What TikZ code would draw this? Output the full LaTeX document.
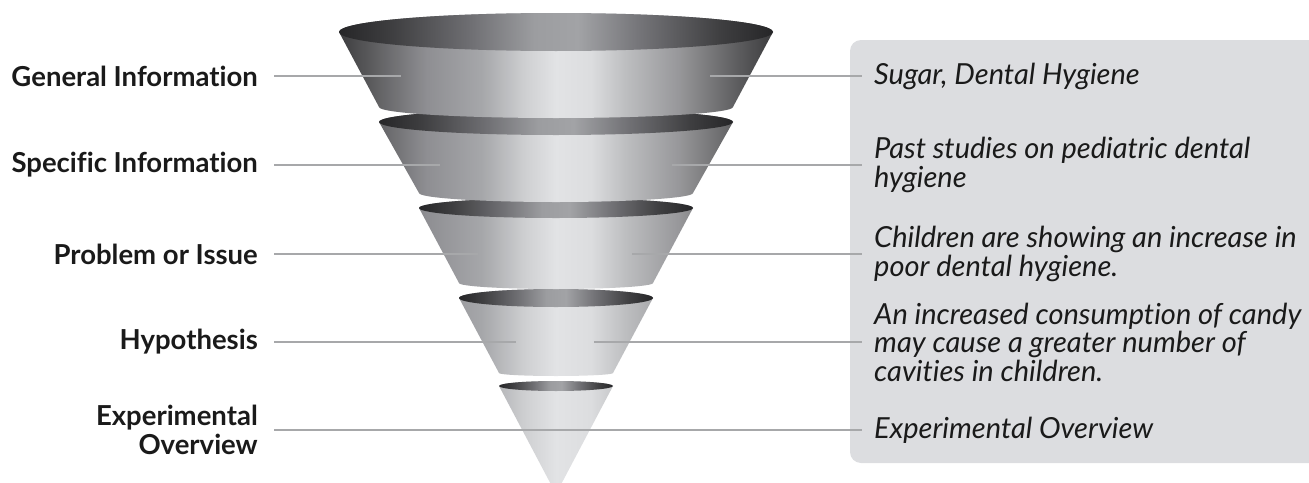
\documentclass[tikz,border=0pt]{standalone}
\usepackage{fontspec}
\newfontfamily\labfont{Lato}[Ligatures={NoCommon}]
\usetikzlibrary{positioning}

\definecolor{boxgray}{HTML}{DCDDE0}
\definecolor{leadgray}{HTML}{A7A8AA}
\definecolor{inkblack}{HTML}{1A1A1A}
\definecolor{bA}{HTML}{3C3C3E}\definecolor{bB}{HTML}{5E5E60}
\definecolor{bC}{HTML}{8E8E92}\definecolor{bD}{HTML}{A6A7AA}
\definecolor{bE}{HTML}{CFD0D2}\definecolor{bF}{HTML}{E2E3E5}
\definecolor{bG}{HTML}{DCDDDF}\definecolor{bH}{HTML}{BDBEC0}
\definecolor{bI}{HTML}{98989B}\definecolor{bJ}{HTML}{646466}
\definecolor{tA}{HTML}{262628}\definecolor{tB}{HTML}{3E3E40}
\definecolor{tC}{HTML}{6E6E72}\definecolor{tD}{HTML}{9C9DA0}
\definecolor{tE}{HTML}{A2A3A6}\definecolor{tF}{HTML}{727276}

\pgfdeclarehorizontalshading{funnelbody}{100bp}{color(0bp)=(bA); color(25bp)=(bA);
  color(29bp)=(bB); color(35bp)=(bC); color(41.5bp)=(bD); color(46.5bp)=(bE);
  color(50bp)=(bF); color(54bp)=(bG); color(58bp)=(bH); color(64bp)=(bI);
  color(70bp)=(bJ); color(75bp)=(bA); color(100bp)=(bA)}
\pgfdeclarehorizontalshading{funneltop}{100bp}{color(0bp)=(tA); color(25bp)=(tA);
  color(31bp)=(tB); color(40bp)=(tC); color(47.5bp)=(tD); color(52.5bp)=(tE);
  color(60bp)=(tF); color(69bp)=(tB); color(75bp)=(tA); color(100bp)=(tA)}

\tikzset{
  leftlab/.style={anchor=east, inner sep=0pt, align=right, text=inkblack,
    font=\labfont\bfseries\fontsize{27.5}{29}\selectfont},
  rightlab/.style={anchor=west, inner sep=0pt, align=left, text=inkblack,
    font=\labfont\itshape\fontsize{29}{28.5}\selectfont},
  leader/.style={leadgray, line width=1.4pt}
}

\begin{document}
\begin{tikzpicture}[x=1pt, y=1pt]
  \clip (0,0) rectangle (1309,-482);

  % 背景の枠
  \fill[boxgray, rounded corners=11pt] (850,-40) rectangle (1340,-463);

  % じょうご (下の段から)
  \foreach \yt/\rt/\st/\yb/\rb/\sb in {386/57/5/493/0.5/0.05, 298/97/9/373/57/3,
      208/137/10/283/97/6, 122/177/13/193/137/9, 32/217/19/107/177/11} {
    \begin{scope}
      \clip (556-\rt,-\yt) -- (556-\rb,-\yb)
        arc[start angle=180, end angle=360, x radius=\rb pt, y radius=\sb pt]
        -- (556+\rt,-\yt)
        arc[start angle=0, end angle=180, x radius=\rt pt, y radius=\st pt] -- cycle;
      \shade[shading=funnelbody] (339,-\yt+25) rectangle (773,-\yb-15);
    \end{scope}
    \shade[shading=funneltop] (556,-\yt) ellipse[x radius=\rt pt, y radius=\st pt];
  }

  % 左のラベル
  \node[leftlab] (gen) at (258,-76) {General Information};
  \node[leftlab] (spec) at (258,-165) {Specific Information};
  \node[leftlab] (prob) at (258,-254) {Problem or Issue};
  \node[leftlab] (hyp) at (258,-342) {Hypothesis};
  \node[leftlab] (expl) at (258,-430) {Experimental\\Overview};

  % 右のラベル
  \node[rightlab] (sugar) at (874,-76) {Sugar, Dental Hygiene};
  \node[rightlab] (past) at (874,-165) {Past studies on pediatric dental\\hygiene};
  \node[rightlab] (child) at (874,-254) {Children are showing an increase in\\poor dental hygiene.};
  \node[rightlab] (candy) at (874,-342) {An increased consumption of candy\\may cause a greater number of\\cavities in children.};
  \node[rightlab] (expr) at (874,-430) {Experimental Overview};

  % 線の端
  \coordinate (genin) at (401,-76);   \coordinate (genout) at (710,-76);
  \coordinate (specin) at (440,-165); \coordinate (specout) at (672,-165);
  \coordinate (probin) at (478,-254); \coordinate (probout) at (632,-254);
  \coordinate (hypin) at (516,-342);  \coordinate (hypout) at (594,-342);

  % 引き出し線
  \draw[leader] ([xshift=16pt]gen.east) -- (genin);
  \draw[leader] (genout) -- ([xshift=-12pt]sugar.west);
  \draw[leader] ([xshift=16pt]spec.east) -- (specin);
  \draw[leader] (specout) -- ([xshift=-12pt]past.west);
  \draw[leader] ([xshift=16pt]prob.east) -- (probin);
  \draw[leader] (probout) -- ([xshift=-12pt]child.west);
  \draw[leader] ([xshift=16pt]hyp.east) -- (hypin);
  \draw[leader] (hypout) -- ([xshift=-12pt]candy.west);
  \draw[leader] ([xshift=16pt]expl.east) -- ([xshift=-12pt]expr.west);
\end{tikzpicture}
\end{document}
